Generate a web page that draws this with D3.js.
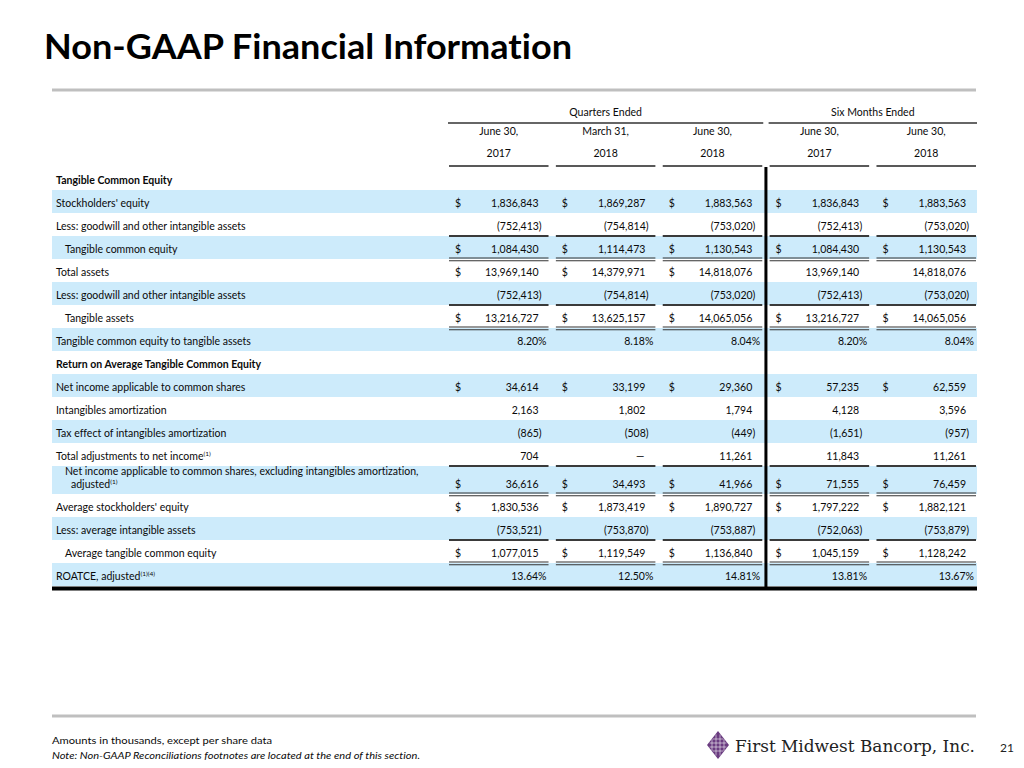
<!DOCTYPE html>
<html><head><meta charset="utf-8">
<script src="https://cdn.jsdelivr.net/npm/d3@7"></script>
<style>body{margin:0;background:#fff}svg{display:block}text{font-variant-ligatures:none;font-feature-settings:"liga" 0,"clig" 0}</style>
</head><body>
<svg id="c" width="1024" height="768"></svg>
<script>
// ---------- data ----------
const title = "Non-GAAP Financial Information";
const groupHeaders = ["Quarters Ended", "Six Months Ended"];
const colKeys = ["q2_2017", "q1_2018", "q2_2018", "h1_2017", "h1_2018"];
const colLine1 = ["June 30,", "March 31,", "June 30,", "June 30,", "June 30,"];
const colLine2 = ["2017", "2018", "2018", "2017", "2018"];

const rowLabels = [
  "Tangible Common Equity",
  "Stockholders' equity",
  "Less: goodwill and other intangible assets",
  "Tangible common equity",
  "Total assets",
  "Less: goodwill and other intangible assets",
  "Tangible assets",
  "Tangible common equity to tangible assets",
  "Return on Average Tangible Common Equity",
  "Net income applicable to common shares",
  "Intangibles amortization",
  "Tax effect of intangibles amortization",
  "Total adjustments to net income",
  ["Net income applicable to common shares, excluding intangibles amortization,", "adjusted"],
  "Average stockholders' equity",
  "Less: average intangible assets",
  "Average tangible common equity",
  "ROATCE, adjusted"
];
const rowSup   = ["", "", "", "", "", "", "", "", "", "", "", "", "(1)", "(1)", "", "", "", "(1)(4)"];
const rowKind  = ["head","num","num","num","num","num","num","pct","head","num","num","num","num","num","num","num","num","pct"];
const rowIndent= [0,0,0,1,0,0,1,0,0,0,0,0,0,1,0,0,1,0];
// dollar sign: 1 = all columns, 2 = quarter columns only
const rowDollar= [0,1,0,1,2,0,1,0,0,1,0,0,0,1,1,0,1,0];
// rule under the row
const rowRule  = ["","","single","double","","single","double","","","","","","single","double","","single","double","thick"];
// shaded rows
const rowShade = [0,1,0,1,0,1,0,1,0,1,0,1,0,1,0,1,0,1];

const q2_2017 = [null, 1836843, -752413, 1084430, 13969140, -752413, 13216727, 8.20, null, 34614, 2163, -865, 704, 36616, 1830536, -753521, 1077015, 13.64];
const q1_2018 = [null, 1869287, -754814, 1114473, 14379971, -754814, 13625157, 8.18, null, 33199, 1802, -508, 0, 34493, 1873419, -753870, 1119549, 12.50];
const q2_2018 = [null, 1883563, -753020, 1130543, 14818076, -753020, 14065056, 8.04, null, 29360, 1794, -449, 11261, 41966, 1890727, -753887, 1136840, 14.81];
const h1_2017 = [null, 1836843, -752413, 1084430, 13969140, -752413, 13216727, 8.20, null, 57235, 4128, -1651, 11843, 71555, 1797222, -752063, 1045159, 13.81];
const h1_2018 = [null, 1883563, -753020, 1130543, 14818076, -753020, 14065056, 8.04, null, 62559, 3596, -957, 11261, 76459, 1882121, -753879, 1128242, 13.67];
const columnValues = [q2_2017, q1_2018, q2_2018, h1_2017, h1_2018];

const footNote1 = "Amounts in thousands, except per share data";
const footNote2 = "Note: Non-GAAP Reconciliations footnotes are located at the end of this section.";
const brand = "First Midwest Bancorp, Inc.";
const pageNo = "21";

// ---------- drawing ----------
const svg = d3.select("#c");
const FONT = "Lato, 'Open Sans', sans-serif";
const BLUE = "#cdebfb";
const INK = "#0a0a0a";

const probe = svg.append("text").attr("font-family", FONT).attr("font-size", 11)
  .text("Less: goodwill and other intangible assets");
const fs = 11 * 190 / probe.node().getComputedTextLength();
probe.remove();

// title
svg.append("text").attr("x", 44).attr("y", 59)
  .attr("font-family", FONT).attr("font-weight", 700).attr("font-size", 35)
  .attr("textLength", 528).attr("lengthAdjust", "spacingAndGlyphs")
  .attr("fill", "#000").text(title);
svg.append("rect").attr("x", 52).attr("y", 88.5).attr("width", 924).attr("height", 3).attr("fill", "#bfbfbf");

// scales
const x = d3.scaleBand().domain(colKeys).range([448, 977]).paddingInner(0.05);
const bw = x.bandwidth();
const rowH = rowLabels.map(l => Array.isArray(l) ? 28 : 23);
const tops = Array.from(d3.cumsum([0, ...rowH.slice(0, -1)]), v => 167 + v);
const y = d3.scaleOrdinal().domain(d3.range(rowLabels.length)).range(tops);

// bands
const g = svg.append("g");
rowLabels.forEach((l, i) => {
  if (rowShade[i]) {
    g.append("rect").attr("x", 52).attr("y", y(i)).attr("width", 925).attr("height", rowH[i]).attr("fill", BLUE);
  }
});

// header
const qx0 = x(colKeys[0]), qx1 = x(colKeys[2]) + bw;
const sx0 = x(colKeys[3]), sx1 = x(colKeys[4]) + bw;
const hdr = svg.append("g").attr("font-family", FONT).attr("font-size", fs).attr("fill", INK).attr("text-anchor", "middle");
hdr.append("text").attr("x", (qx0 + qx1) / 2).attr("y", 116).text(groupHeaders[0]);
hdr.append("text").attr("x", (sx0 + sx1) / 2).attr("y", 116).text(groupHeaders[1]);
svg.append("line").attr("x1", qx0).attr("x2", qx1).attr("y1", 123).attr("y2", 123).attr("stroke", "#333").attr("stroke-width", 1.5);
svg.append("line").attr("x1", sx0).attr("x2", sx1).attr("y1", 123).attr("y2", 123).attr("stroke", "#333").attr("stroke-width", 1.5);
colKeys.forEach((k, j) => {
  const cx = x(k) + bw / 2;
  hdr.append("text").attr("x", cx).attr("y", 135).text(colLine1[j]);
  hdr.append("text").attr("x", cx).attr("y", 157).text(colLine2[j]);
  svg.append("line").attr("x1", x(k) + 1).attr("x2", x(k) + bw - 1).attr("y1", 166).attr("y2", 166).attr("stroke", "#222").attr("stroke-width", 1.5);
});

// row labels
const lab = svg.append("g").attr("font-family", FONT).attr("font-size", fs).attr("fill", INK);
function addSup(t, s) {
  if (s) t.append("tspan").attr("font-size", fs * 0.62).attr("dy", -4).text(s);
}
rowLabels.forEach((l, i) => {
  const base = y(i) + rowH[i] - 6.5;
  const lx = rowIndent[i] ? 65 : 56;
  if (Array.isArray(l)) {
    lab.append("text").attr("x", lx).attr("y", base - 12.5).text(l[0]);
    const t = lab.append("text").attr("x", lx + 6).attr("y", base).text(l[1]);
    addSup(t, rowSup[i]);
  } else {
    const t = lab.append("text").attr("x", lx).attr("y", base).text(l)
      .attr("font-weight", rowKind[i] === "head" ? 700 : 400);
    addSup(t, rowSup[i]);
  }
});

// values
const fmt = d3.format(",");
const vals = svg.append("g").attr("font-family", FONT).attr("font-size", fs).attr("fill", INK);
colKeys.forEach((k, j) => {
  const x0 = x(k), xr = x0 + bw - 11;
  columnValues[j].forEach((v, i) => {
    if (v === null) return;
    const base = y(i) + rowH[i] - 6.5;
    if (rowDollar[i] === 1 || (rowDollar[i] === 2 && j < 3)) {
      vals.append("text").attr("x", x0 + 7).attr("y", base).text("$");
    }
    let s, ax = xr;
    if (rowKind[i] === "pct") { s = v.toFixed(2) + "%"; ax = x0 + bw - 3; }
    else if (v === 0) { s = "\u2014"; ax = xr - 1; }
    else if (v < 0) { s = "(" + fmt(-v) + ")"; ax = xr + fs * 0.3; }
    else s = fmt(v);
    vals.append("text").attr("x", ax).attr("y", base).attr("text-anchor", "end").text(s);
  });
});

// rules
rowRule.forEach((r, i) => {
  const yb = y(i) + rowH[i];
  if (r === "thick") {
    svg.append("rect").attr("x", 52).attr("y", yb + 0.5).attr("width", 925).attr("height", 4).attr("fill", "#000");
    return;
  }
  colKeys.forEach(k => {
    const a = x(k) + 1, b = x(k) + bw - 1;
    if (r === "single") {
      svg.append("line").attr("x1", a).attr("x2", b).attr("y1", yb).attr("y2", yb).attr("stroke", "#3a3a3a").attr("stroke-width", 1.8);
    } else if (r === "double") {
      [yb - 1, yb + 1.8].forEach(yy =>
        svg.append("line").attr("x1", a).attr("x2", b).attr("y1", yy).attr("y2", yy).attr("stroke", "#333").attr("stroke-width", 1.1));
    }
  });
});

// vertical divider
const vx = (x(colKeys[2]) + bw + x(colKeys[3])) / 2;
svg.append("rect").attr("x", vx - 1.5).attr("y", 167).attr("width", 3).attr("height", y(rowLabels.length - 1) + rowH[rowLabels.length - 1] + 4 - 167).attr("fill", "#000");

// footer
svg.append("rect").attr("x", 52).attr("y", 714.5).attr("width", 924).attr("height", 3).attr("fill", "#bfbfbf");
svg.append("text").attr("x", 52).attr("y", 744).attr("font-family", FONT).attr("font-size", 10)
  .attr("textLength", 220).attr("lengthAdjust", "spacingAndGlyphs").attr("fill", INK).text(footNote1);
svg.append("text").attr("x", 52).attr("y", 759).attr("font-family", FONT).attr("font-size", 10).attr("font-style", "italic")
  .attr("textLength", 368).attr("lengthAdjust", "spacingAndGlyphs").attr("fill", INK).text(footNote2);

// logo
const logo = svg.append("g").attr("transform", "translate(718,745)");
logo.append("path").attr("d", "M0,-14 L11,0 L0,14 L-11,0 Z").attr("fill", "#6a3b80");
[-6, -2, 2, 6].forEach(d => {
  logo.append("line").attr("x1", d).attr("x2", d).attr("y1", -13 + Math.abs(d) * 1.2).attr("y2", 13 - Math.abs(d) * 1.2).attr("stroke", "#fff").attr("stroke-width", 0.7).attr("opacity", 0.8);
  logo.append("line").attr("y1", d).attr("y2", d).attr("x1", -10 + Math.abs(d) * 0.8).attr("x2", 10 - Math.abs(d) * 0.8).attr("stroke", "#fff").attr("stroke-width", 0.7).attr("opacity", 0.8);
});
svg.append("text").attr("x", 735).attr("y", 752).attr("font-family", "'DejaVu Serif', serif").attr("font-size", 17)
  .attr("textLength", 240).attr("lengthAdjust", "spacingAndGlyphs").attr("fill", "#222").text(brand);
svg.append("text").attr("x", 1000).attr("y", 752).attr("font-family", FONT).attr("font-size", 12).attr("fill", "#222").text(pageNo);
</script>
</body></html>
